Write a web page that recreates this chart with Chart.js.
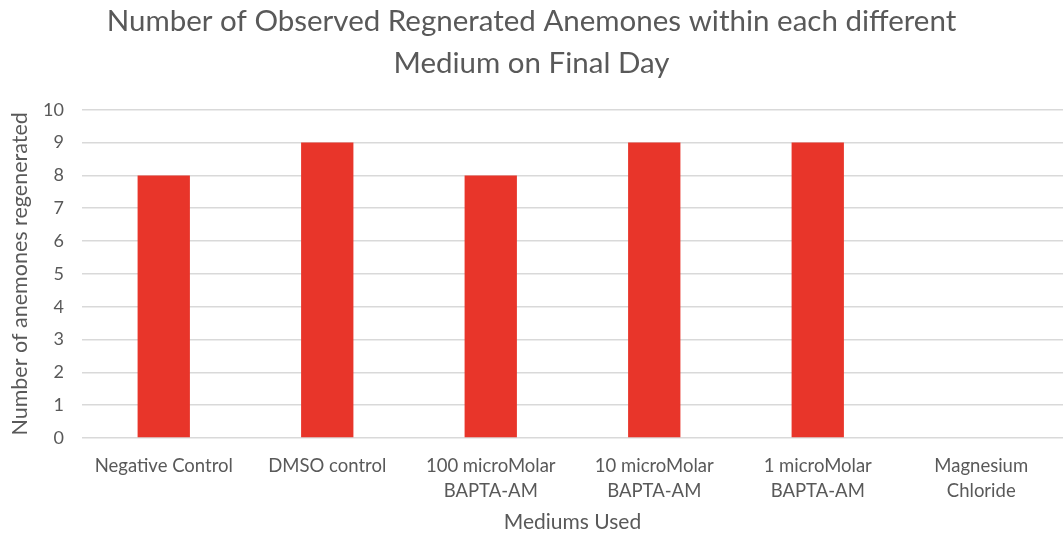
<!DOCTYPE html>
<html>
<head>
<meta charset="utf-8">
<script src="https://cdn.jsdelivr.net/npm/chart.js@4/dist/chart.umd.min.js"></script>
<style>
  html, body { margin: 0; padding: 0; background: #fff; }
  #wrap { width: 1063px; height: 535px; }
</style>
</head>
<body>
<div id="wrap"><canvas id="mediumChart"></canvas></div>
<script>
const labels = [
  "Negative Control",
  "DMSO control",
  ["100 microMolar", "BAPTA-AM"],
  ["10 microMolar", "BAPTA-AM"],
  ["1 microMolar", "BAPTA-AM"],
  ["Magnesium", "Chloride"],
];
const regenerated = [8, 9, 8, 9, 9, 0];
const yTicks = [0, 1, 2, 3, 4, 5, 6, 7, 8, 9, 10];

const gray = "#595959";

const data = {
  labels: labels,
  datasets: [
    {
      data: regenerated,
      backgroundColor: "#E8352A",
      categoryPercentage: 1,
      barPercentage: 0.32,
    },
  ],
};

const config = {
  type: "bar",
  data: data,
  options: {
    responsive: true,
    maintainAspectRatio: false,
    animation: false,
    layout: { padding: { left: 0, right: 0, top: 0, bottom: 0 } },
    scales: {
      x: {
        grid: { display: false },
        border: { display: false },
        ticks: { color: gray, font: { family: "Lato", size: 18.5, lineHeight: 1.35 }, padding: 8, maxRotation: 0 },
        title: {
          display: true,
          text: "Mediums Used",
          color: gray,
          font: { family: "Lato", size: 21 },
          padding: { top: 4, bottom: 0 },
        },
        afterFit: (s) => { s.height = 97; },
      },
      y: {
        min: 0,
        max: 10,
        afterBuildTicks: (s) => { s.ticks = yTicks.map((v) => ({ value: v })); },
        grid: { color: "#d9d9d9", lineWidth: 1.5, drawTicks: false },
        border: { display: false },
        ticks: { color: gray, font: { family: "Lato", size: 18 }, padding: 18 },
        title: {
          display: true,
          text: "Number of anemones regenerated",
          color: gray,
          font: { family: "Lato", size: 21.5 },
          padding: { top: 7, bottom: 4 },
        },
        afterFit: (s) => { s.width = 82; },
      },
    },
    plugins: {
      legend: { display: false },
      tooltip: { enabled: false },
      title: {
        display: true,
        text: ["Number of Observed Regnerated Anemones within each different", "Medium on Final Day"],
        color: gray,
        font: { family: "Lato", size: 29.5, weight: "normal", lineHeight: 1.42 },
        padding: { top: 1, bottom: 25 },
      },
    },
  },
};

let myChart = new Chart(document.getElementById("mediumChart"), config);
</script>
</body>
</html>
